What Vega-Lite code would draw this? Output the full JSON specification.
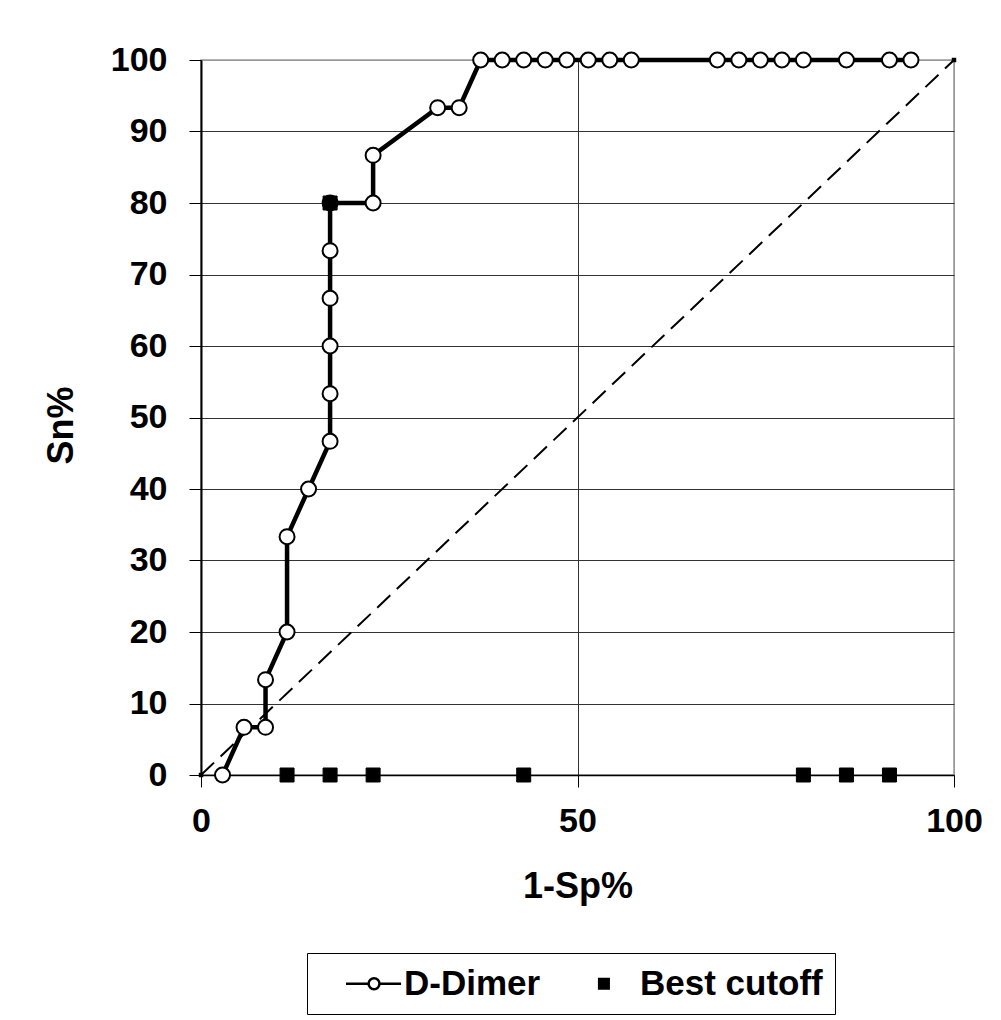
{
  "$schema": "https://vega.github.io/schema/vega-lite/v6.json",
  "width": 753,
  "height": 715,
  "autosize": "none",
  "padding": {"left": 201, "top": 60, "right": 47, "bottom": 245},
  "background": "white",
  "config": {
    "font": "Liberation Sans",
    "view": {"stroke": "#999999", "strokeWidth": 1.5}
  },
  "datasets": {
    "roc": [
      {"series": "D-Dimer", "fpr": 2.857, "sn": 0},
      {"series": "D-Dimer", "fpr": 5.714, "sn": 6.667},
      {"series": "D-Dimer", "fpr": 8.571, "sn": 6.667},
      {"series": "D-Dimer", "fpr": 8.571, "sn": 13.333},
      {"series": "D-Dimer", "fpr": 11.429, "sn": 20},
      {"series": "D-Dimer", "fpr": 11.429, "sn": 33.333},
      {"series": "D-Dimer", "fpr": 14.286, "sn": 40},
      {"series": "D-Dimer", "fpr": 17.143, "sn": 46.667},
      {"series": "D-Dimer", "fpr": 17.143, "sn": 53.333},
      {"series": "D-Dimer", "fpr": 17.143, "sn": 60},
      {"series": "D-Dimer", "fpr": 17.143, "sn": 66.667},
      {"series": "D-Dimer", "fpr": 17.143, "sn": 73.333},
      {"series": "D-Dimer", "fpr": 17.143, "sn": 80},
      {"series": "D-Dimer", "fpr": 22.857, "sn": 80},
      {"series": "D-Dimer", "fpr": 22.857, "sn": 86.667},
      {"series": "D-Dimer", "fpr": 31.429, "sn": 93.333},
      {"series": "D-Dimer", "fpr": 34.286, "sn": 93.333},
      {"series": "D-Dimer", "fpr": 37.143, "sn": 100},
      {"series": "D-Dimer", "fpr": 40.0, "sn": 100},
      {"series": "D-Dimer", "fpr": 42.857, "sn": 100},
      {"series": "D-Dimer", "fpr": 45.714, "sn": 100},
      {"series": "D-Dimer", "fpr": 48.571, "sn": 100},
      {"series": "D-Dimer", "fpr": 51.429, "sn": 100},
      {"series": "D-Dimer", "fpr": 54.286, "sn": 100},
      {"series": "D-Dimer", "fpr": 57.143, "sn": 100},
      {"series": "D-Dimer", "fpr": 68.571, "sn": 100},
      {"series": "D-Dimer", "fpr": 71.429, "sn": 100},
      {"series": "D-Dimer", "fpr": 74.286, "sn": 100},
      {"series": "D-Dimer", "fpr": 77.143, "sn": 100},
      {"series": "D-Dimer", "fpr": 80.0, "sn": 100},
      {"series": "D-Dimer", "fpr": 85.714, "sn": 100},
      {"series": "D-Dimer", "fpr": 91.429, "sn": 100},
      {"series": "D-Dimer", "fpr": 94.286, "sn": 100},
      {"series": "Best cutoff", "fpr": 11.429, "sn": 0},
      {"series": "Best cutoff", "fpr": 17.143, "sn": 0},
      {"series": "Best cutoff", "fpr": 22.857, "sn": 0},
      {"series": "Best cutoff", "fpr": 42.857, "sn": 0},
      {"series": "Best cutoff", "fpr": 80.0, "sn": 0},
      {"series": "Best cutoff", "fpr": 85.714, "sn": 0},
      {"series": "Best cutoff", "fpr": 91.429, "sn": 0},
      {"series": "Best cutoff", "fpr": 17.143, "sn": 80}
    ],
    "diag": [
      {"fpr": 0, "sn": 0},
      {"fpr": 100, "sn": 100}
    ]
  },
  "encoding": {
    "x": {
      "field": "fpr", "type": "quantitative",
      "scale": {"domain": [0, 100], "nice": false, "zero": false},
      "axis": {
        "values": [0, 50, 100],
        "title": "1-Sp%",
        "titleFontSize": 36, "titleFontWeight": "bold", "titleColor": "black",
        "titleY": 122, "titleBaseline": "alphabetic",
        "labelFontSize": 34, "labelFontWeight": "bold", "labelColor": "black",
        "labelPadding": 17, "labelFlush": false,
        "tickSize": 12, "tickColor": "black", "tickWidth": 1,
        "domainColor": "black", "domainWidth": 1.5,
        "grid": true, "gridWidth": 1,
        "gridColor": {"condition": {"test": "datum.value === 100", "value": "#999999"}, "value": "#333333"}
      }
    },
    "y": {
      "field": "sn", "type": "quantitative",
      "scale": {"domain": [0, 100], "nice": false, "zero": false},
      "axis": {
        "values": [0, 10, 20, 30, 40, 50, 60, 70, 80, 90, 100],
        "title": "Sn%",
        "titleFontSize": 36, "titleFontWeight": "bold", "titleColor": "black",
        "titleX": -129, "titleY": 365, "titleAngle": -90,
        "titleBaseline": "alphabetic", "titleAlign": "center",
        "labelFontSize": 34, "labelFontWeight": "bold", "labelColor": "black",
        "labelPadding": 22, "labelFlush": false,
        "tickSize": 12, "tickColor": "black", "tickWidth": 1,
        "domainColor": "black", "domainWidth": 2,
        "grid": true, "gridWidth": 1,
        "gridColor": {"condition": {"test": "datum.value === 100", "value": "#999999"}, "value": "#333333"}
      }
    }
  },
  "layer": [
    {
      "data": {"name": "roc"},
      "mark": {"type": "point", "filled": true, "strokeWidth": 2.5, "size": 1156, "opacity": 0},
      "encoding": {
        "shape": {
          "field": "series", "type": "nominal",
          "scale": {
            "domain": ["D-Dimer", "Best cutoff"],
            "range": [
              "M0.5,0H1.83M2.47,0H3.74M2.47,0A0.32,0.32 0 1,1 1.83,0A0.32,0.32 0 1,1 2.47,0Z",
              "M1.51,-0.28H2.07V0.28H1.51Z"
            ]
          },
          "legend": {
            "orient": "none", "legendX": 106, "legendY": 893,
            "direction": "horizontal", "title": null,
            "labelFontSize": 35, "labelFontWeight": "bold", "labelColor": "black",
            "labelOffset": 48, "labelLimit": 400,
            "symbolSize": 1156, "symbolOpacity": 1, "symbolStrokeWidth": 2.5,
            "padding": 12,
            "strokeColor": "black", "fillColor": "white",
            "columnPadding": 14
          }
        },
        "fill": {
          "field": "series", "type": "nominal",
          "scale": {"domain": ["D-Dimer", "Best cutoff"], "range": ["white", "black"]}
        },
        "stroke": {
          "field": "series", "type": "nominal",
          "scale": {"domain": ["D-Dimer", "Best cutoff"], "range": ["black", "black"]}
        }
      }
    },
    {
      "data": {"name": "diag"},
      "mark": {"type": "line", "color": "black", "strokeWidth": 2, "strokeDash": [18, 9]}
    },
    {
      "data": {"name": "diag"},
      "mark": {"type": "point", "shape": "square", "filled": true, "color": "black", "size": 20, "opacity": 1}
    },
    {
      "data": {"name": "roc"},
      "transform": [{"filter": "datum.series === 'D-Dimer'"}],
      "mark": {"type": "line", "color": "black", "strokeWidth": 4.5}
    },
    {
      "data": {"name": "roc"},
      "transform": [{"filter": "datum.series === 'D-Dimer'"}],
      "mark": {"type": "point", "shape": "circle", "filled": true, "fill": "white", "stroke": "black", "strokeWidth": 2, "size": 225, "opacity": 1}
    },
    {
      "data": {"name": "roc"},
      "transform": [{"filter": "datum.series === 'Best cutoff'"}],
      "mark": {"type": "point", "shape": "square", "filled": true, "fill": "black", "stroke": "black", "strokeWidth": 1, "size": 196, "opacity": 1}
    }
  ]
}
